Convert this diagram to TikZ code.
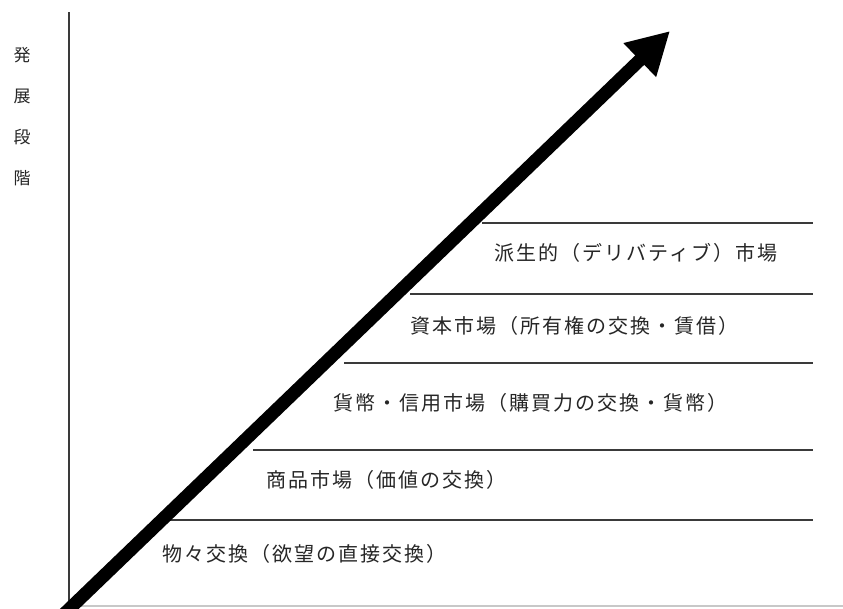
\documentclass[tikz,border=0pt]{standalone}
\usepackage{fontspec}
\usetikzlibrary{arrows.meta}
\newfontfamily\jp[LetterSpace=10]{Noto Sans CJK JP}
\newfontfamily\jpv{Noto Sans CJK JP}
\definecolor{ink}{HTML}{262626}
\definecolor{rule}{HTML}{3A3A3A}
\definecolor{faint}{HTML}{C8C8C8}
\tikzset{
  level/.style={draw=rule, line width=1.3pt},
  lab/.style={anchor=west, inner sep=0pt, text=ink, font=\jp\fontsize{20}{24}\selectfont},
  vlab/.style={inner sep=0pt, text=ink, font=\jpv\fontsize{17}{20}\selectfont},
  bigarrow/.style={draw=black, line width=13pt, -{Triangle[width=44pt,length=42pt]}},
}
\begin{document}
\begin{tikzpicture}[x=1pt,y=-1pt]
\useasboundingbox (0,0) rectangle (843,608);
\clip (0,0) rectangle (843,608);
% axes
\coordinate (ytop) at (69,12);
\coordinate (orig) at (69,608);
\coordinate (xend) at (843,606);
\draw[faint, line width=1.5pt] (69,606) -- (xend);
\draw[rule, line width=1.6pt] (ytop) -- (orig);
% vertical label
\node[vlab] (v1) at (22,55) {発};
\node[vlab] (v2) at (22,96) {展};
\node[vlab] (v3) at (22,137) {段};
\node[vlab] (v4) at (22,178) {階};
% levels
\coordinate (l1a) at (482,223); \coordinate (l1b) at (813,223);
\coordinate (l2a) at (410,294); \coordinate (l2b) at (813,294);
\coordinate (l3a) at (344,363); \coordinate (l3b) at (813,363);
\coordinate (l4a) at (253,450); \coordinate (l4b) at (813,450);
\coordinate (l5a) at (168,520); \coordinate (l5b) at (813,520);
\draw[level] (l1a) -- (l1b);
\draw[level] (l2a) -- (l2b);
\draw[level] (l3a) -- (l3b);
\draw[level] (l4a) -- (l4b);
\draw[level] (l5a) -- (l5b);
% labels
\node[lab] (t1) at (494,253) {派生的（デリバティブ）市場};
\node[lab] (t2) at (410,326) {資本市場（所有権の交換・賃借）};
\node[lab] (t3) at (333,403) {貨幣・信用市場（購買力の交換・貨幣）};
\node[lab] (t4) at (266,480) {商品市場（価値の交換）};
\node[lab] (t5) at (162,554) {物々交換（欲望の直接交換）};
% arrow
\coordinate (atail) at (62,616);
\coordinate (atip) at (670,31);
\draw[bigarrow] (atail) -- (atip);
\end{tikzpicture}
\end{document}
